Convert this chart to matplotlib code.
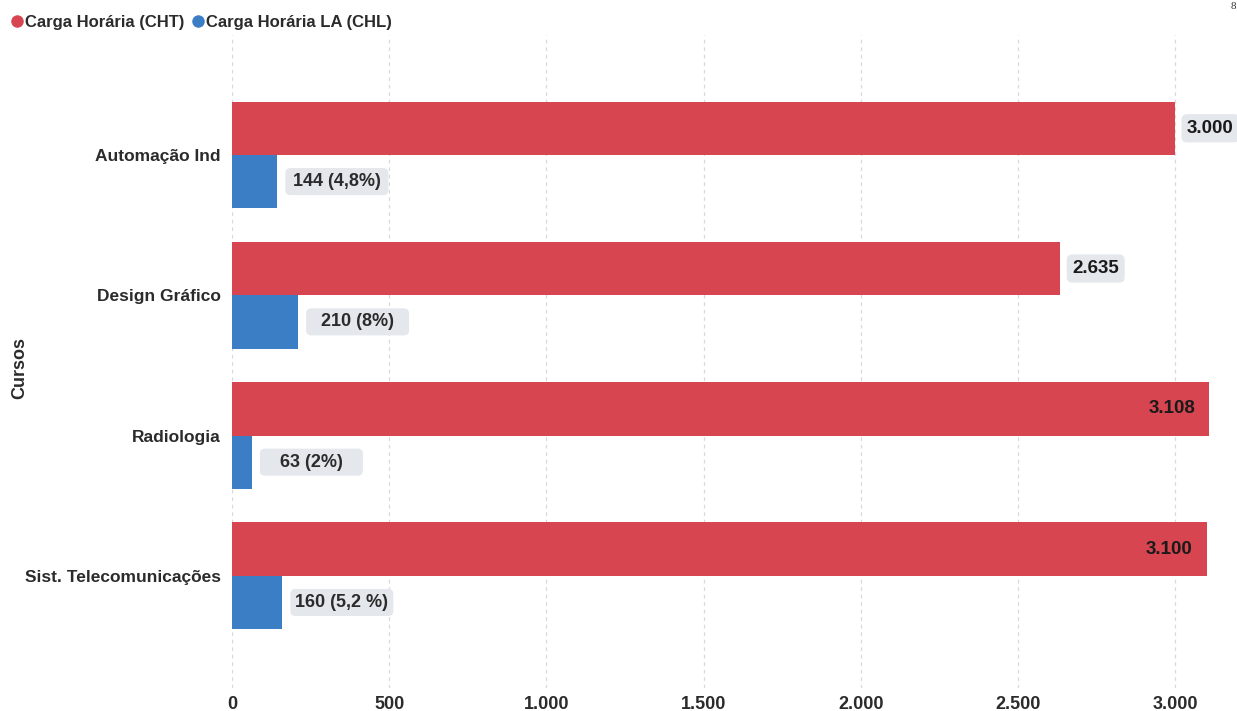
import matplotlib
matplotlib.use('Agg')
import matplotlib.pyplot as plt
from matplotlib.lines import Line2D
from matplotlib.patches import FancyBboxPatch
import numpy as np

plt.rcParams['font.family'] = ['Liberation Sans', 'DejaVu Sans']
plt.rcParams['font.weight'] = 'bold'

cursos = ['Automação Ind', 'Design Gráfico', 'Radiologia', 'Sist. Telecomunicações']
cht = [3000, 2635, 3108, 3100]
chl = [144, 210, 63, 160]
chl_labels = ['144 (4,8%)', '210 (8%)', '63 (2%)', '160 (5,2 %)']
xticks = [0, 500, 1000, 1500, 2000, 2500, 3000]

RED = '#D64550'
BLUE = '#3C7EC6'
TXT = '#2b2b2b'
BOXC = '#E4E7EB'


def fmt(v):
    return f'{v:,.0f}'.replace(',', '.')


fig = plt.figure(figsize=(12.37, 7.11), dpi=100)
ax = fig.add_axes([0.1876, 0.0323, 0.8124, 0.9185])

y = np.arange(len(cursos))
h = 0.38
ax.barh(y - h / 2, cht, height=h, color=RED, zorder=2)
ax.barh(y + h / 2, chl, height=h, color=BLUE, zorder=2)

XMAX = 3197
ax.set_xlim(0, XMAX)
ax.set_ylim(3.80, -0.855)

ax.set_xticks(xticks)
ax.set_xticklabels([fmt(v) for v in xticks])
ax.set_yticks(y)
ax.set_yticklabels(cursos)
ax.tick_params(axis='x', length=0, pad=6, labelsize=13, labelcolor=TXT)
ax.tick_params(axis='y', length=0, pad=8, labelsize=12.5, labelcolor=TXT)
ax.grid(axis='x', color='#d9d9d9', linestyle=(0, (3, 3)), linewidth=0.9, zorder=0)
for s in ax.spines.values():
    s.set_visible(False)

ax.set_ylabel('Cursos', fontsize=13, color=TXT, fontweight='bold')
ax.yaxis.set_label_coords(-0.203, 0.49)

# pixel -> data conversions
px_x = XMAX / 1005.0
px_y = 4.655 / 653.0

# red value labels
for yi, v in zip(y, cht):
    if v + 190 > XMAX:
        ax.text(v - 14 * px_x, yi - h / 2, fmt(v), ha='right', va='center',
                fontsize=13.5, color='#1a1a1a', zorder=3)
    else:
        ax.text(v + 12 * px_x, yi - h / 2, fmt(v), ha='left', va='center',
                fontsize=13.5, color='#1a1a1a', zorder=4, clip_on=False,
                bbox=dict(boxstyle='round,pad=0.3,rounding_size=0.3',
                          fc=BOXC, ec='none'))

# blue value labels in fixed-width boxes
bw = 103 * px_x
bh = 27 * px_y
for yi, v, lab in zip(y, chl, chl_labels):
    x0 = v + 8 * px_x
    box = FancyBboxPatch((x0, yi + h / 2 - bh / 2), bw, bh,
                         boxstyle='round,pad=0,rounding_size=16',
                         mutation_aspect=px_y / px_x,
                         fc=BOXC, ec='none', zorder=3)
    ax.add_patch(box)
    ax.text(x0 + bw / 2, yi + h / 2, lab, ha='center', va='center',
            fontsize=13, color=TXT, zorder=4)

handles = [Line2D([], [], marker='o', linestyle='none', markersize=9,
                  markerfacecolor=RED, markeredgecolor='none'),
           Line2D([], [], marker='o', linestyle='none', markersize=9,
                  markerfacecolor=BLUE, markeredgecolor='none')]
fig.legend(handles, ['Carga Horária (CHT)', 'Carga Horária LA (CHL)'],
           loc='upper left', bbox_to_anchor=(-0.004, 0.998), ncol=2, frameon=False,
           handletextpad=0.0, columnspacing=0.3, handlelength=1.0, borderpad=0.3,
           prop={'size': 12, 'weight': 'bold'}, labelcolor=TXT)

fig.text(0.9995, 0.997, '8', ha='right', va='top', fontsize=8,
         family='Liberation Serif', fontweight='normal', color='#333')

fig.savefig('out.png', dpi=100)
